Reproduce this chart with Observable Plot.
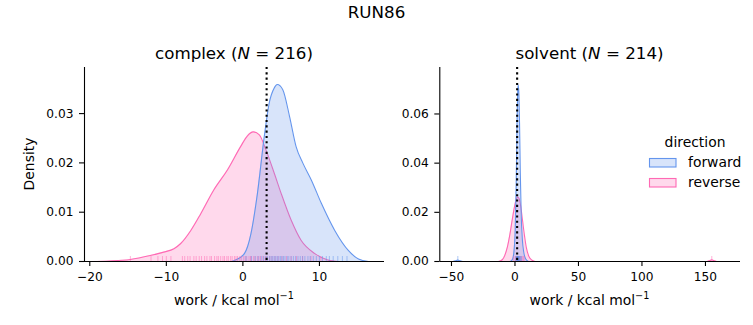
<!DOCTYPE html>
<html>
<head>
<meta charset="utf-8">
<script src="https://cdn.jsdelivr.net/npm/d3@7"></script>
<script src="https://cdn.jsdelivr.net/npm/@observablehq/plot@0.6"></script>
<style>
  html, body { margin: 0; padding: 0; background: white; }
  #wrap { position: relative; width: 753px; height: 325px; font-family: "DejaVu Sans", sans-serif; }
  #wrap > svg, #wrap > .pw { position: absolute; top: 0; }
</style>
</head>
<body>
<div id="wrap"></div>
<script>
// ---------------- data ----------------
const title = "RUN86";
const directions = ["forward", "reverse"];
const colFwd = "#6495ED";
const colRev = "#FF69B4";

// complex panel (N = 216): density curves [work, density]
const complexFwd = [[-1.5,0],[-1.1,0.0002],[0.2,0.0016],[1.05,0.0056],[1.9,0.0138],[2.8,0.0254],[3.45,0.0322],[4.1,0.0352],[4.5,0.0359],[5.2,0.0349],[6.1,0.0294],[6.95,0.0233],[7.85,0.0199],[8.95,0.0165],[10.25,0.0118],[12.0,0.0063],[13.8,0.0022],[15.1,0.0005],[16.4,0]];
const complexRev = [[-19.8,0],[-17.5,0.0001],[-14.7,0.0004],[-12.1,0.0012],[-10.35,0.0019],[-9.0,0.0026],[-8.15,0.0036],[-6.8,0.0063],[-5.5,0.0097],[-3.8,0.0145],[-2.0,0.0186],[-0.3,0.0233],[0.6,0.0255],[1.35,0.0263],[2.15,0.0257],[3.0,0.0227],[4.1,0.0179],[5.0,0.0138],[6.3,0.0084],[7.6,0.0043],[9.4,0.0016],[11.1,0.0003],[12.5,0]];
const complexRugFwd = [0.4,1.1,1.6,2.0,2.4,2.7,3.0,3.2,3.5,3.7,3.9,4.1,4.3,4.5,4.7,4.9,5.1,5.3,5.5,5.8,6.0,6.3,6.6,6.9,7.2,7.5,7.8,8.1,8.5,8.8,9.2,9.6,10.0,10.4,10.9,11.3,11.8,12.4,13.0,13.6];
const complexRugRev = [-14.7,-12.0,-11.1,-10.5,-10.0,-9.4,-7.9,-7.6,-7.2,-6.9,-6.4,-6.1,-5.7,-5.4,-5.0,-4.7,-4.3,-4.1,-3.7,-3.4,-3.2,-2.9,-2.6,-2.4,-2.1,-1.9,-1.6,-1.4,-1.1,-0.9,-0.7,-0.4,-0.2,0.1,0.3,0.5,0.8,1.0,1.1,1.4,1.6,1.9,2.1,2.3,2.6,2.9,3.1,3.5,3.8,4.2,4.6,5.1,5.7,6.3,7.0,7.8,8.9,10.2];
const complexMark = 3.1;
const complexXDomain = [-20.69, 18.5];
const complexYDomain = [0, 0.03935];
const complexXTicks = [-20, -10, 0, 10];
const complexYTicks = [0, 0.01, 0.02, 0.03];

// solvent panel (N = 214)
const solventFwd = [[-49,0],[-46.5,0.0003],[-45,0.0006],[-43.5,0.0003],[-41,0],[-4,0],[-2,0.0008],[-0.8,0.004],[0.2,0.013],[1.0,0.032],[1.6,0.055],[2.1,0.068],[2.6,0.0718],[3.1,0.068],[3.6,0.056],[4.2,0.036],[4.9,0.019],[5.8,0.009],[7,0.0035],[8.5,0.001],[10.5,0]];
const solventRev = [[-13,0],[-10,0.0007],[-8,0.0025],[-6,0.0058],[-4,0.011],[-2,0.0175],[0,0.0232],[1.2,0.0255],[2.2,0.0262],[3.3,0.0255],[4.5,0.0225],[6,0.0165],[7.5,0.0105],[9,0.0055],[11,0.002],[13.5,0.0005],[16,0],[151,0],[153.5,0.0004],[155,0.0007],[156.5,0.0004],[159,0],[165.5,0]];
const solventRugFwd = [-45.0,0.6,1.2,1.6,1.9,2.1,2.3,2.5,2.7,2.9,3.1,3.4,3.8,4.4,5.2];
const solventRugRev = [-1.0,0.3,0.9,1.4,1.8,2.2,2.6,3.0,3.5,4.1,4.8,5.6,6.5,7.2,155.0];
const solventMark = 1.7;
const solventXDomain = [-59.2, 177.6];
const solventYDomain = [0, 0.0789];
const solventXTicks = [-50, 0, 50, 100, 150];
const solventYTicks = [0, 0.02, 0.04, 0.06];

// ---------------- drawing ----------------
const wrap = document.getElementById("wrap");
const baseStyle = {fontFamily: "DejaVu Sans", fontSize: "12.2px", color: "black", background: "transparent", overflow: "visible"};

function panel(opts) {
  const {width, marginLeft, marginRight, fwd, rev, rugFwd, rugRev, mark, xDomain, yDomain, xTicks, yTicks} = opts;
  const frameH = 325 - 67 - 64;
  const curve = "monotone-x";
  return Plot.plot({
    width, height: 325, marginLeft, marginRight, marginTop: 67, marginBottom: 64,
    x: {domain: xDomain, label: null},
    y: {domain: yDomain, label: null},
    style: baseStyle,
    marks: [
      Plot.areaY(rev, {x: d => d[0], y: d => d[1], fill: colRev, fillOpacity: 0.25, curve}),
      Plot.lineY(rev, {x: d => d[0], y: d => d[1], stroke: colRev, strokeWidth: 1.1, curve}),
      Plot.areaY(fwd, {x: d => d[0], y: d => d[1], fill: colFwd, fillOpacity: 0.25, curve}),
      Plot.lineY(fwd, {x: d => d[0], y: d => d[1], stroke: colFwd, strokeWidth: 1.1, curve}),
      Plot.tickX(rugRev, {x: d => d, stroke: colRev, strokeOpacity: 0.5, strokeWidth: 1, insetTop: frameH - 5}),
      Plot.tickX(rugFwd, {x: d => d, stroke: colFwd, strokeOpacity: 0.5, strokeWidth: 1, insetTop: frameH - 5}),
      Plot.ruleX([mark], {stroke: "black", strokeWidth: 2.1, strokeDasharray: "2.1,3.2"}),
      Plot.axisX(xTicks, {tickSize: 5, tickPadding: 6, label: null, strokeWidth: 1.1}),
      Plot.axisY(yTicks, {tickSize: 5, tickPadding: 6, tickFormat: d3.format(".2f"), label: null, strokeWidth: 1.1}),
      Plot.ruleY([yDomain[0]], {stroke: "black", strokeWidth: 1.1}),
      Plot.ruleX([xDomain[0]], {stroke: "black", strokeWidth: 1.1})
    ]
  });
}

const left = panel({width: 392, marginLeft: 84, marginRight: 8, fwd: complexFwd, rev: complexRev,
  rugFwd: complexRugFwd, rugRev: complexRugRev, mark: complexMark,
  xDomain: complexXDomain, yDomain: complexYDomain, xTicks: complexXTicks, yTicks: complexYTicks});
const right = panel({width: 361, marginLeft: 47.3, marginRight: 13, fwd: solventFwd, rev: solventRev,
  rugFwd: solventRugFwd, rugRev: solventRugRev, mark: solventMark,
  xDomain: solventXDomain, yDomain: solventYDomain, xTicks: solventXTicks, yTicks: solventYTicks});

const lw = document.createElement("div"); lw.className = "pw"; lw.style.left = "0px"; lw.appendChild(left);
const rw = document.createElement("div"); rw.className = "pw"; rw.style.left = "392px"; rw.appendChild(right);
wrap.appendChild(lw); wrap.appendChild(rw);
d3.selectAll("#wrap .pw svg text").style("font-size", "12.2px").style("font-family", "DejaVu Sans").style("fill", "black");

// text overlay: titles, axis labels, legend
const svg = d3.select(wrap).append("svg")
  .attr("width", 753).attr("height", 325)
  .style("left", "0px").style("pointer-events", "none")
  .attr("font-family", "DejaVu Sans").attr("fill", "black");

svg.append("text").attr("x", 376.5).attr("y", 18).attr("text-anchor", "middle").attr("font-size", 16.7).text(title);

function panelTitle(x, name, n) {
  const t = svg.append("text").attr("x", x).attr("y", 59).attr("text-anchor", "middle").attr("font-size", 16.7);
  t.append("tspan").text(name + " (");
  t.append("tspan").attr("font-style", "italic").text("N");
  t.append("tspan").text(" = " + n + ")");
}
panelTitle(234, "complex", 216);
panelTitle(589.5, "solvent", 214);

function xLabel(x) {
  const t = svg.append("text").attr("x", x).attr("y", 305).attr("text-anchor", "middle").attr("font-size", 13.9);
  t.append("tspan").text("work / kcal mol");
  t.append("tspan").attr("dy", -6).attr("font-size", 9.7).text("\u22121");
}
xLabel(234);
xLabel(589.5);

svg.append("text").attr("transform", "translate(34,164) rotate(-90)").attr("text-anchor", "middle")
  .attr("font-size", 13.9).text("Density");

// legend
svg.append("text").attr("x", 695).attr("y", 146.5).attr("text-anchor", "middle").attr("font-size", 13.9).text("direction");
const legendColors = [colFwd, colRev];
directions.forEach((d, i) => {
  const y0 = 158.5 + i * 20;
  svg.append("rect").attr("x", 649.5).attr("y", y0).attr("width", 26.5).attr("height", 8.5)
    .attr("fill", legendColors[i]).attr("fill-opacity", 0.25)
    .attr("stroke", legendColors[i]).attr("stroke-width", 1.1);
  svg.append("text").attr("x", 688).attr("y", y0 + 8).attr("font-size", 13.9).text(d);
});
</script>
</body>
</html>
